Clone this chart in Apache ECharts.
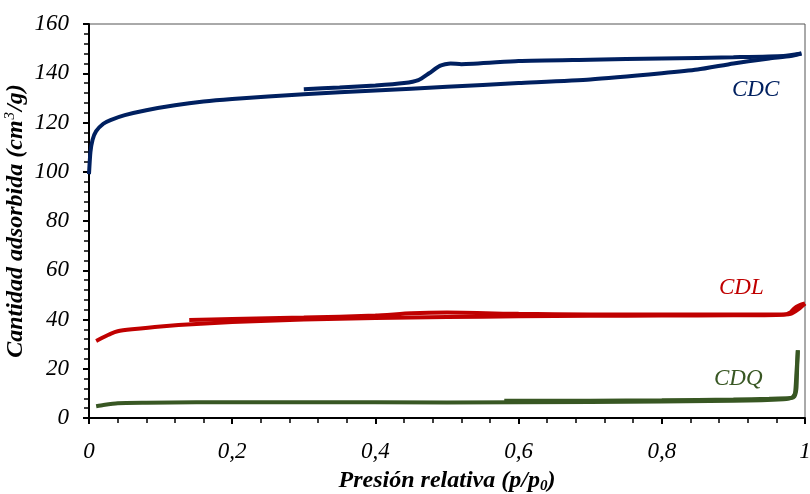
<!DOCTYPE html>
<html>
<head>
<meta charset="utf-8">
<script src="https://cdn.jsdelivr.net/npm/echarts@6/dist/echarts.min.js"></script>
<style>
  html, body { margin: 0; padding: 0; background: #fff; }
  #main { width: 810px; height: 494px; }
</style>
</head>
<body>
<div id="main"></div>
<script>
// isotermas: presion relativa (p/p0) vs cantidad adsorbida (cm3/g)
var cdcAdsP = [0, 0.002, 0.005, 0.01, 0.02, 0.03, 0.05, 0.08, 0.12, 0.16, 0.2, 0.3, 0.4, 0.5, 0.6, 0.7, 0.8, 0.85, 0.9, 0.95, 0.98, 0.995];
var cdcAdsV = [99, 108, 113, 116.5, 119.5, 121, 123, 125, 127, 128.5, 129.5, 131.5, 133, 134.5, 136, 137.5, 140, 141.5, 144, 146, 147, 148];
var cdcDesP = [0.995, 0.97, 0.9, 0.8, 0.7, 0.6, 0.52, 0.505, 0.49, 0.475, 0.46, 0.44, 0.4, 0.35, 0.3];
var cdcDesV = [148, 147, 146.5, 146, 145.5, 145, 143.7, 144, 143, 140, 137.2, 136, 135, 134.2, 133.5];

var cdlAdsP = [0.01, 0.02, 0.03, 0.04, 0.06, 0.1, 0.15, 0.2, 0.3, 0.4, 0.5, 0.6, 0.7, 0.8, 0.9, 0.96, 0.98, 0.99, 1.0];
var cdlAdsV = [31.3, 32.8, 34.2, 35.2, 36, 37.2, 38.2, 39, 40, 40.6, 41, 41.3, 41.5, 41.6, 41.7, 41.8, 42.3, 44, 46.5];
var cdlDesP = [1.0, 0.99, 0.985, 0.98, 0.97, 0.9, 0.8, 0.7, 0.6, 0.5, 0.45, 0.4, 0.3, 0.2, 0.14];
var cdlDesV = [46.5, 45.5, 44.5, 43, 42, 42, 42, 42, 42.3, 42.8, 42.5, 41.6, 40.8, 40.2, 39.8];

var cdqAdsP = [0.01, 0.02, 0.04, 0.08, 0.15, 0.3, 0.5, 0.7, 0.9, 0.97, 0.982, 0.986, 0.988, 0.99];
var cdqAdsV = [4.8, 5.3, 6, 6.2, 6.4, 6.4, 6.3, 6.5, 7, 7.6, 8.3, 10, 18, 27.5];
var cdqDesP = [0.99, 0.989, 0.988, 0.985, 0.98, 0.95, 0.9, 0.8, 0.7, 0.6, 0.58];
var cdqDesV = [27.5, 20, 12, 8.6, 8.1, 7.8, 7.5, 7.2, 7, 7, 7];

var xTicks = [0, 0.2, 0.4, 0.6, 0.8, 1];
var yTicks = [0, 20, 40, 60, 80, 100, 120, 140, 160];

var colCDC = "#002060";
var colCDL = "#C00000";
var colCDQ = "#385723";
var serif = "'Liberation Serif', 'Times New Roman', serif";

function pares(p, v) {
  return p.map(function (x, i) { return [x, v[i]]; });
}

function serie(p, v, color) {
  return {
    type: "line",
    data: pares(p, v),
    showSymbol: false,
    smooth: 0.2,
    lineStyle: { color: color, width: 4 },
    silent: true
  };
}

var tituloEje = {
  b: { fontFamily: serif, fontSize: 24, fontStyle: "italic", fontWeight: "bold", color: "#000" },
  sub: { fontFamily: serif, fontSize: 15, fontStyle: "italic", fontWeight: "bold", color: "#000", padding: [12, 0, 0, 0] },
  sup: { fontFamily: serif, fontSize: 15, fontStyle: "italic", color: "#000", padding: [0, 1, 10, 1] }
};

var myChart = echarts.init(document.getElementById("main"));

var option = {
  backgroundColor: "#fff",
  animation: false,
  grid: {
    left: 89,
    right: 5,
    top: 24,
    bottom: 76,
    outerBoundsMode: "none",
    containLabel: false,
    show: true,
    borderColor: "#555",
    borderWidth: 1
  },
  xAxis: {
    type: "value",
    min: 0,
    max: 1,
    interval: 0.2,
    name: "{b|Presión relativa (p/p}{sub|0}{b|)}",
    nameLocation: "middle",
    nameGap: 49,
    nameMoveOverlap: false,
    nameTextStyle: { rich: tituloEje },
    axisLine: { lineStyle: { color: "#000", width: 2 } },
    axisTick: { length: 6, lineStyle: { color: "#000", width: 2 } },
    minorTick: { show: true, splitNumber: 5, length: 5, lineStyle: { color: "#000", width: 1.5 } },
    splitLine: { show: false },
    axisLabel: {
      fontFamily: serif,
      fontSize: 23,
      fontStyle: "italic",
      color: "#000",
      margin: 22,
      formatter: function (v) {
        var r = Math.round(v * 10) / 10;
        return xTicks.indexOf(r) >= 0 ? String(r).replace(".", ",") : "";
      }
    }
  },
  yAxis: {
    type: "value",
    min: 0,
    max: 160,
    interval: 20,
    name: "{b|Cantidad adsorbida (cm}{sup|3}{b|/g)}",
    nameLocation: "middle",
    nameGap: 61,
    nameMoveOverlap: false,
    nameTextStyle: { rich: tituloEje },
    axisLine: { show: true, lineStyle: { color: "#000", width: 2 } },
    axisTick: { show: true, length: 6, lineStyle: { color: "#000", width: 2 } },
    minorTick: { show: true, splitNumber: 5, length: 5, lineStyle: { color: "#000", width: 1.5 } },
    splitLine: { show: false },
    axisLabel: {
      fontFamily: serif,
      fontSize: 23,
      fontStyle: "italic",
      color: "#000",
      margin: 20,
      formatter: function (v) {
        return yTicks.indexOf(v) >= 0 ? String(v) : "";
      }
    }
  },
  series: [
    serie(cdcAdsP, cdcAdsV, colCDC),
    serie(cdcDesP, cdcDesV, colCDC),
    serie(cdlAdsP, cdlAdsV, colCDL),
    serie(cdlDesP, cdlDesV, colCDL),
    serie(cdqAdsP, cdqAdsV, colCDQ),
    serie(cdqDesP, cdqDesV, colCDQ)
  ],
  graphic: [
    { type: "text", left: 732, top: 78, style: { text: "CDC", fill: colCDC, font: "italic 23px " + serif } },
    { type: "text", left: 719, top: 276, style: { text: "CDL", fill: colCDL, font: "italic 23px " + serif } },
    { type: "text", left: 714, top: 367, style: { text: "CDQ", fill: colCDQ, font: "italic 23px " + serif } }
  ]
};

myChart.setOption(option);
</script>
</body>
</html>
